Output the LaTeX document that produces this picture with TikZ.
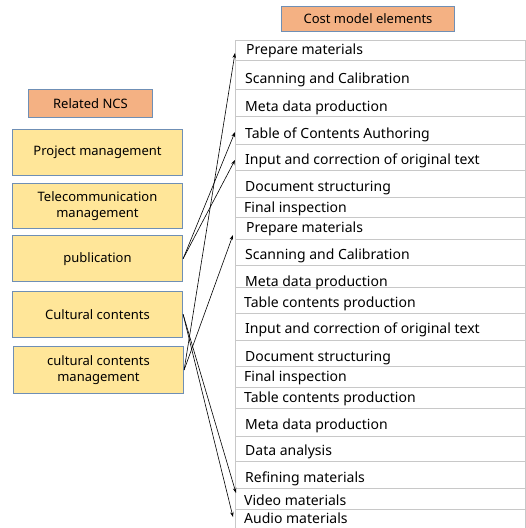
\documentclass[tikz,border=0pt]{standalone}
\usepackage{fontspec}
\setmainfont{Noto Sans}
\usetikzlibrary{arrows.meta}
\definecolor{salmon}{HTML}{F4B183}
\definecolor{boxyellow}{HTML}{FFE699}
\definecolor{boxborder}{HTML}{6F8FB5}
\definecolor{gridgray}{HTML}{C8C8C8}
\begin{document}
\begin{tikzpicture}[x=1pt,y=-1pt,
  hdr/.style={draw=boxborder,line width=0.8pt,fill=salmon,inner sep=0pt,font=\fontsize{13}{15}\selectfont},
  ncs/.style={draw=boxborder,line width=0.8pt,fill=boxyellow,inner sep=0pt,align=center,font=\fontsize{13}{16.5}\selectfont},
  cell/.style={anchor=west,inner sep=0pt,font=\fontsize{14}{16}\selectfont},
  grid/.style={draw=gridgray,line width=0.8pt},
  arr/.style={draw=black,line width=0.6pt,-{Stealth[length=5pt,width=3.5pt]}}]
\useasboundingbox (0,0) rectangle (526,528);
% headers
\node[hdr,minimum width=172.6pt,minimum height=25pt] (cme) at (368,18.5) {Cost model elements};
\node[hdr,minimum width=124.4pt,minimum height=28.7pt] (rncs) at (90.5,103.3) {Related NCS};
% NCS boxes
\node[ncs,minimum width=170.4pt,minimum height=45.7pt] (pm) at (97.5,152.2) {Project management};
\node[ncs,minimum width=170.4pt,minimum height=45.4pt] (tm) at (97.5,206) {Telecommunication\\management};
\node[ncs,minimum width=170.4pt,minimum height=46pt] (pub) at (97.5,258.7) {publication};
\node[ncs,minimum width=170.4pt,minimum height=46pt] (cc) at (97.5,314.3) {Cultural contents};
\node[ncs,minimum width=170.4pt,minimum height=46.6pt] (ccm) at (98.5,370) {cultural contents\\management};
% table grid
\coordinate (tl) at (235,40);
\draw[grid] (tl) rectangle (525,530);
\foreach \yy in {60.7,89.3,116.7,144,170,197.3,217.7,239,265.7,287.3,313.3,340,366.7,387.3,408.3,436,461.7,488.3,509.3}
  \draw[grid] (235,\yy) -- (525,\yy);
% cells
\node[cell] (r1) at (246,51) {Prepare materials};
\node[cell] (r2) at (245,80) {Scanning and Calibration};
\node[cell] (r3) at (245,108) {Meta data production};
\node[cell] (r4) at (245,135) {Table of Contents Authoring};
\node[cell] (r5) at (245,161) {Input and correction of original text};
\node[cell] (r6) at (245,188) {Document structuring};
\node[cell] (r7) at (244,209) {Final inspection};
\node[cell] (r8) at (246,229) {Prepare materials};
\node[cell] (r9) at (245,256) {Scanning and Calibration};
\node[cell] (r10) at (245,283) {Meta data production};
\node[cell] (r11) at (244,304) {Table contents production};
\node[cell] (r12) at (245,330) {Input and correction of original text};
\node[cell] (r13) at (245,358) {Document structuring};
\node[cell] (r14) at (244,378) {Final inspection};
\node[cell] (r15) at (244,399) {Table contents production};
\node[cell] (r16) at (245,426) {Meta data production};
\node[cell] (r17) at (245,452) {Data analysis};
\node[cell] (r18) at (245,479) {Refining materials};
\node[cell] (r19) at (244,500) {Video materials};
\node[cell] (r20) at (244,518.5) {Audio materials};
% connectors
\draw[arr] (pub.east) -- ([yshift=3pt]r4.west -| tl);
\draw[arr] (pub.east) -- ([yshift=1pt]r5.west -| tl);
\draw[arr] (ccm.east) -- ([yshift=-2pt]r1.west -| tl);
\draw[arr] (ccm.east) -- ([yshift=-6pt,xshift=-2pt]r8.west -| tl);
\draw[arr] (cc.east) -- ([yshift=7pt,xshift=1pt]r19.west -| tl);
\draw[arr] (cc.east) -- ([yshift=1.5pt,xshift=-2pt]r20.west -| tl);
\end{tikzpicture}
\end{document}
